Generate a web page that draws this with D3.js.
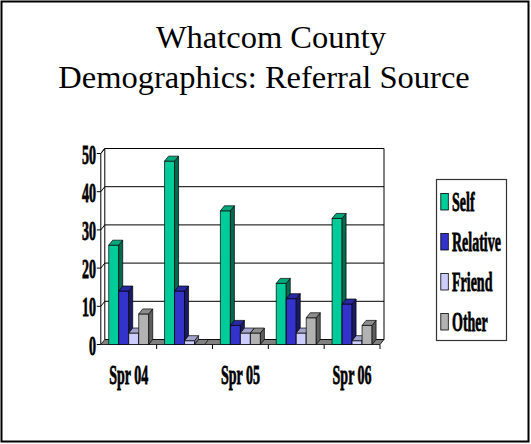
<!DOCTYPE html>
<html><head><meta charset="utf-8">
<script src="https://cdn.jsdelivr.net/npm/d3@7"></script>
<style>body{margin:0;background:#fff}svg{display:block}</style>
</head><body>
<script>
const categories = ["Spr 04", "Fall 04", "Spr 05", "Fall 05", "Spr 06"];
const shownLabels = ["Spr 04", "", "Spr 05", "", "Spr 06"];
const seriesNames = ["Self", "Relative", "Friend", "Other"];
const selfValues = [26, 48, 35, 16, 33];
const relativeValues = [14, 14, 5, 12, 10.6];
const friendValues = [3, 1, 3, 3, 1];
const otherValues = [8, 0, 3, 7, 5];
const yTicks = [0, 10, 20, 30, 40, 50];
const titleLines = ["Whatcom County", "Demographics: Referral Source"];

const seriesValues = [selfValues, relativeValues, friendValues, otherValues];
const colors = {
  Self: {front: "#00CC99", top: "#00A67C", side: "#006B50"},
  Relative: {front: "#3333CC", top: "#2828A0", side: "#1A1A66"},
  Friend: {front: "#CCCCFF", top: "#A3A3CC", side: "#7A7A99"},
  Other: {front: "#B2B2B2", top: "#8C8C8C", side: "#5E5E5E"}
};

const W = 531, H = 444;
const svg = d3.select("body").append("svg").attr("width", W).attr("height", H);
const font = "'Liberation Serif','Times New Roman',serif";
const SX = 0.5, FS = 28;

// frame
svg.append("rect").attr("x", 1.5).attr("y", 1.5).attr("width", 527).attr("height", 440)
  .attr("fill", "#fff").attr("stroke", "#000").attr("stroke-width", 2);

// title
svg.selectAll("text.title").data(titleLines).enter().append("text")
  .attr("class", "title")
  .attr("x", (d, i) => i === 0 ? 271 : 264).attr("y", (d, i) => 47.5 + i * 40.5)
  .attr("text-anchor", "middle")
  .attr("font-family", font).attr("font-size", 32.5)
  .text(d => d);

const x0 = d3.scaleBand().domain(categories).range([100.8, 380])
  .paddingInner(0.2837).paddingOuter(0.1418);
const x1 = d3.scaleBand().domain(seriesNames).range([0, x0.bandwidth()]);
const y = d3.scaleLinear().domain([0, 50]).range([344.5, 153.5]);
const DX = 4, DY = -5;
const xL = 100.8, xR = 380;

// back wall
svg.append("path")
  .attr("d", `M${xL + DX},${y(0) + DY}V${y(50) + DY}H${xR + DX}V${y(0) + DY}Z`)
  .attr("fill", "#fff").attr("stroke", "#000").attr("stroke-width", 1);
// gridlines on back wall + left wall
yTicks.filter(t => t > 0).forEach(t => {
  svg.append("line").attr("x1", xL + DX).attr("x2", xR + DX)
    .attr("y1", y(t) + DY).attr("y2", y(t) + DY)
    .attr("stroke", "#000").attr("stroke-width", 1);
  svg.append("line").attr("x1", xL).attr("x2", xL + DX)
    .attr("y1", y(t)).attr("y2", y(t) + DY)
    .attr("stroke", "#000").attr("stroke-width", 1);
});
// left wall outline
svg.append("path")
  .attr("d", `M${xL},${y(0)}V${y(50)}L${xL + DX},${y(50) + DY}`)
  .attr("fill", "none").attr("stroke", "#000").attr("stroke-width", 1);
// floor
svg.append("path")
  .attr("d", `M${xL},${y(0)}H${xR}L${xR + DX},${y(0) + DY}H${xL + DX}Z`)
  .attr("fill", "#808080").attr("stroke", "#000").attr("stroke-width", 0.8);

// bars
const barData = [];
categories.forEach((c, ci) => {
  seriesNames.forEach((s, si) => {
    barData.push({cat: c, series: s, value: seriesValues[si][ci]});
  });
});
const bars = svg.append("g").selectAll("g").data(barData).enter().append("g");
bars.each(function(d) {
  const g = d3.select(this);
  const xa = x0(d.cat) + x1(d.series), xb = xa + x1.bandwidth();
  const yt = y(d.value), yb = y(0);
  const c = colors[d.series];
  if (d.value > 0) {
    g.append("path").attr("d", `M${xa},${yb}V${yt}H${xb}V${yb}Z`)
      .attr("fill", c.front).attr("stroke", "#000").attr("stroke-width", 0.7);
    g.append("path").attr("d", `M${xb},${yb}V${yt}L${xb + DX},${yt + DY}V${yb + DY}Z`)
      .attr("fill", c.side).attr("stroke", "#000").attr("stroke-width", 0.7);
  }
  g.append("path").attr("d", `M${xa},${yt}H${xb}L${xb + DX},${yt + DY}H${xa + DX}Z`)
    .attr("fill", d.value > 0 ? c.top : "#808080").attr("stroke", "#000").attr("stroke-width", 0.7);
});

// y axis ticks and labels
yTicks.forEach(t => {
  svg.append("line").attr("x1", xL - 4).attr("x2", xL).attr("y1", y(t)).attr("y2", y(t))
    .attr("stroke", "#000").attr("stroke-width", 1);
  svg.append("text")
    .attr("transform", `translate(96,${y(t) + 10}) scale(${SX},1)`)
    .attr("text-anchor", "end").attr("font-family", font).attr("font-weight", "bold")
    .attr("font-size", FS).attr("stroke", "#000").attr("stroke-width", 0.8).text(t);
});
// x axis ticks
const bounds = categories.map(c => x0(c) - x0.step() * x0.paddingInner() / 2);
bounds.push(xR);
bounds.slice(1).forEach(b => {
  svg.append("line").attr("x1", b).attr("x2", b).attr("y1", y(0)).attr("y2", y(0) + 4.5)
    .attr("stroke", "#000").attr("stroke-width", 1);
});
categories.forEach((c, i) => {
  if (!shownLabels[i]) return;
  svg.append("text")
    .attr("transform", `translate(${x0(c) + x0.bandwidth() / 2},384) scale(${SX},1)`)
    .attr("text-anchor", "middle").attr("font-family", font).attr("font-weight", "bold")
    .attr("font-size", FS).attr("stroke", "#000").attr("stroke-width", 0.8).text(shownLabels[i]);
});

// legend
svg.append("rect").attr("x", 436.5).attr("y", 179.5).attr("width", 70).attr("height", 161)
  .attr("fill", "#fff").attr("stroke", "#333").attr("stroke-width", 1.2);
const lg = svg.append("g").selectAll("g").data(seriesNames).enter().append("g")
  .attr("transform", (d, i) => `translate(0,${i * 40})`);
lg.append("rect").attr("x", 440.8).attr("y", 193.5).attr("width", 7.5).attr("height", 16.5)
  .attr("fill", d => colors[d].front).attr("stroke", "#000").attr("stroke-width", 0.8);
lg.append("text")
  .attr("transform", `translate(452,210.5) scale(${SX},1)`)
  .attr("font-family", font).attr("font-weight", "bold").attr("font-size", FS)
  .attr("stroke", "#000").attr("stroke-width", 0.8)
  .text(d => d);
</script>
</body></html>
